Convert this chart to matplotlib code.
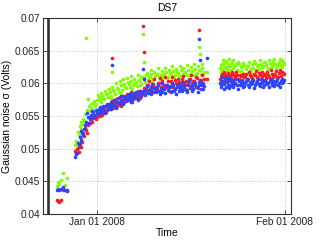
import datetime as dt
import matplotlib
matplotlib.use('Agg')
import matplotlib.pyplot as plt
import matplotlib.dates as mdates

plt.rcParams['font.family'] = ['Liberation Sans', 'DejaVu Sans']

# times are days relative to Jan 01 2008
t_early = [-6.6, -6.4, -6.2, -5.9, -5.6, -5.3, -5.0]
blue_early = [0.0437, 0.0438, 0.0437, 0.0439, 0.0442, 0.0436, 0.0435]
red_early = [0.0421, 0.0420, 0.0419, 0.0422, 0.0437, 0.0436, 0.0437]
green_early = [0.0443, 0.0449, 0.0446, 0.0452, 0.0462, 0.0444, 0.0455]

t_rise = [-3.6, -3.3, -3.0, -2.7, -2.4, -2.1, -1.8, -1.5, -1.2, -0.9, -0.6, -0.3,
          0.0, 0.3, 0.6, 0.9, 1.2, 1.5, 1.8, 2.1, 2.4, 2.7, 3.0, 3.3, 3.6, 3.9,
          4.2, 4.5, 4.8, 5.1, 5.4, 5.7, 6.0, 6.3, 6.6, 6.9, 7.2, 7.5]
blue_rise = [0.0487, 0.0494, 0.0506, 0.0512, 0.0524, 0.0530, 0.0541, 0.0549, 0.0545, 0.0552,
             0.0556, 0.0551, 0.0556, 0.0560, 0.0554, 0.0562, 0.0558, 0.0565, 0.0561, 0.0567,
             0.0560, 0.0569, 0.0565, 0.0571, 0.0568, 0.0575, 0.0570, 0.0577, 0.0573, 0.0579,
             0.0574, 0.0580, 0.0576, 0.0582, 0.0578, 0.0584, 0.0580, 0.0586]
red_rise = [0.0497, 0.0499, 0.0495, 0.0503, 0.0510, 0.0519, 0.0528, 0.0536, 0.0540, 0.0545,
            0.0547, 0.0550, 0.0548, 0.0553, 0.0557, 0.0552, 0.0561, 0.0556, 0.0564, 0.0560,
            0.0566, 0.0563, 0.0570, 0.0566, 0.0572, 0.0569, 0.0575, 0.0571, 0.0577, 0.0574,
            0.0579, 0.0576, 0.0581, 0.0578, 0.0584, 0.0580, 0.0586, 0.0583]
green_rise = [0.0506, 0.0510, 0.0521, 0.0530, 0.0537, 0.0542, 0.0669, 0.0576, 0.0558, 0.0563,
              0.0570, 0.0566, 0.0575, 0.0579, 0.0571, 0.0580, 0.0576, 0.0584, 0.0579, 0.0586,
              0.0581, 0.0590, 0.0584, 0.0593, 0.0587, 0.0597, 0.0590, 0.0599, 0.0593, 0.0602,
              0.0595, 0.0604, 0.0597, 0.0601, 0.0596, 0.0605, 0.0600, 0.0609]

t_rise2 = [-3.45, -3.15, -2.85, -2.55, -2.25, -1.95, -1.65, -1.35, -1.05, -0.75, -0.45, -0.15,
           0.15, 0.45, 0.75, 1.05, 1.35, 1.65, 1.95, 2.25, 2.55, 2.85, 3.15, 3.45, 3.75,
           4.05, 4.35, 4.65, 4.95, 5.25, 5.55, 5.85, 6.15, 6.45, 6.75, 7.05, 7.35]
blue_rise2 = [0.0492, 0.0509, 0.0518, 0.0527, 0.0521, 0.0536, 0.0555, 0.0540, 0.0550, 0.0558,
              0.0548, 0.0559, 0.0553, 0.0564, 0.0557, 0.0566, 0.0555, 0.0568, 0.0563, 0.0572,
              0.0566, 0.0574, 0.0562, 0.0578, 0.0571, 0.0580, 0.0568, 0.0581, 0.0575, 0.0584,
              0.0572, 0.0585, 0.0579, 0.0587, 0.0575, 0.0588, 0.0582]
red_rise2 = [0.0493, 0.0501, 0.0507, 0.0515, 0.0524, 0.0532, 0.0524, 0.0539, 0.0546, 0.0541,
             0.0552, 0.0546, 0.0556, 0.0550, 0.0561, 0.0555, 0.0565, 0.0559, 0.0569, 0.0563,
             0.0573, 0.0567, 0.0576, 0.0570, 0.0579, 0.0565, 0.0580, 0.0574, 0.0583, 0.0577,
             0.0586, 0.0571, 0.0585, 0.0581, 0.0589, 0.0577, 0.0588]
green_rise2 = [0.0511, 0.0526, 0.0534, 0.0541, 0.0545, 0.0553, 0.0559, 0.0565, 0.0569, 0.0561,
               0.0573, 0.0568, 0.0582, 0.0574, 0.0585, 0.0578, 0.0589, 0.0583, 0.0592, 0.0577,
               0.0595, 0.0588, 0.0600, 0.0591, 0.0603, 0.0585, 0.0606, 0.0594, 0.0608, 0.0599,
               0.0611, 0.0592, 0.0607, 0.0602, 0.0612, 0.0598, 0.0610]

t_mid = [7.8, 8.1, 8.4, 8.7, 9.0, 9.3, 9.6, 9.9, 10.2, 10.5, 10.8, 11.1, 11.4, 11.7,
         12.0, 12.3, 12.6, 12.9, 13.2, 13.5, 13.8, 14.1, 14.4, 14.7, 15.0, 15.3, 15.6,
         15.9, 16.2, 16.5, 16.8, 17.1, 17.4, 17.7]
blue_mid = [0.0588, 0.0592, 0.0585, 0.0590, 0.0594, 0.0587, 0.0591, 0.0595, 0.0589, 0.0593,
            0.0586, 0.0592, 0.0596, 0.0590, 0.0594, 0.0588, 0.0597, 0.0591, 0.0595, 0.0589,
            0.0598, 0.0592, 0.0596, 0.0590, 0.0599, 0.0593, 0.0597, 0.0591, 0.0600, 0.0594,
            0.0598, 0.0592, 0.0601, 0.0596]
red_mid = [0.0593, 0.0589, 0.0597, 0.0592, 0.0590, 0.0599, 0.0594, 0.0591, 0.0600, 0.0595,
           0.0603, 0.0593, 0.0598, 0.0604, 0.0596, 0.0601, 0.0594, 0.0605, 0.0599, 0.0602,
           0.0596, 0.0606, 0.0600, 0.0603, 0.0597, 0.0607, 0.0601, 0.0604, 0.0598, 0.0608,
           0.0602, 0.0605, 0.0599, 0.0607]
green_mid = [0.0608, 0.0612, 0.0605, 0.0610, 0.0614, 0.0607, 0.0611, 0.0615, 0.0609, 0.0613,
             0.0606, 0.0614, 0.0618, 0.0610, 0.0616, 0.0609, 0.0619, 0.0612, 0.0617, 0.0611,
             0.0620, 0.0613, 0.0618, 0.0612, 0.0621, 0.0615, 0.0619, 0.0613, 0.0622, 0.0616,
             0.0620, 0.0614, 0.0623, 0.0617]

t_mid2 = [7.95, 8.25, 8.55, 8.85, 9.15, 9.45, 9.75, 10.05, 10.35, 10.65, 10.95, 11.25,
          11.55, 11.85, 12.15, 12.45, 12.75, 13.05, 13.35, 13.65, 13.95, 14.25, 14.55,
          14.85, 15.15, 15.45, 15.75, 16.05, 16.35, 16.65, 16.95, 17.25, 17.55]
blue_mid2 = [0.0582, 0.0596, 0.0590, 0.0584, 0.0599, 0.0593, 0.0586, 0.0597, 0.0583, 0.0600,
             0.0591, 0.0585, 0.0598, 0.0594, 0.0587, 0.0601, 0.0589, 0.0584, 0.0599, 0.0595,
             0.0588, 0.0602, 0.0591, 0.0586, 0.0603, 0.0596, 0.0589, 0.0600, 0.0594, 0.0587,
             0.0604, 0.0598, 0.0592]
red_mid2 = [0.0586, 0.0598, 0.0603, 0.0588, 0.0595, 0.0606, 0.0590, 0.0600, 0.0608, 0.0592,
            0.0597, 0.0609, 0.0595, 0.0588, 0.0604, 0.0610, 0.0593, 0.0600, 0.0607, 0.0591,
            0.0602, 0.0611, 0.0597, 0.0590, 0.0606, 0.0612, 0.0595, 0.0603, 0.0609, 0.0593,
            0.0605, 0.0613, 0.0600]
green_mid2 = [0.0602, 0.0616, 0.0610, 0.0621, 0.0604, 0.0618, 0.0612, 0.0623, 0.0606, 0.0619,
              0.0613, 0.0624, 0.0608, 0.0621, 0.0615, 0.0626, 0.0610, 0.0622, 0.0616, 0.0627,
              0.0611, 0.0624, 0.0617, 0.0628, 0.0613, 0.0625, 0.0619, 0.0629, 0.0614, 0.0626,
              0.0620, 0.0630, 0.0615]

t_late = [20.3, 20.5, 20.7, 20.9, 21.1, 21.3, 21.5, 21.7, 21.9, 22.1, 22.3, 22.5, 22.8,
          23.1, 23.4, 23.7, 24.0, 24.3, 24.6, 24.9, 25.2, 25.5, 25.8, 26.1, 26.4, 26.7,
          27.0, 27.3, 27.6, 27.9, 28.2, 28.5, 28.8, 29.1, 29.4, 29.7, 30.0, 30.3, 30.6, 30.9]
blue_late = [0.0601, 0.0597, 0.0604, 0.0599, 0.0606, 0.0595, 0.0602, 0.0608, 0.0598, 0.0603,
             0.0596, 0.0605, 0.0600, 0.0597, 0.0603, 0.0599, 0.0601, 0.0596, 0.0604, 0.0598,
             0.0602, 0.0600, 0.0605, 0.0597, 0.0603, 0.0599, 0.0601, 0.0606, 0.0598, 0.0602,
             0.0600, 0.0604, 0.0597, 0.0603, 0.0599, 0.0606, 0.0601, 0.0604, 0.0600, 0.0605]
red_late = [0.0607, 0.0611, 0.0604, 0.0609, 0.0613, 0.0606, 0.0610, 0.0603, 0.0612, 0.0608,
            0.0615, 0.0605, 0.0610, 0.0613, 0.0607, 0.0611, 0.0604, 0.0609, 0.0614, 0.0606,
            0.0612, 0.0608, 0.0605, 0.0613, 0.0609, 0.0616, 0.0607, 0.0611, 0.0614, 0.0608,
            0.0612, 0.0606, 0.0615, 0.0610, 0.0613, 0.0608, 0.0616, 0.0611, 0.0618, 0.0614]
green_late = [0.0623, 0.0628, 0.0620, 0.0631, 0.0625, 0.0634, 0.0622, 0.0629, 0.0626, 0.0619,
              0.0632, 0.0624, 0.0627, 0.0621, 0.0630, 0.0625, 0.0618, 0.0628, 0.0622, 0.0626,
              0.0620, 0.0629, 0.0624, 0.0631, 0.0627, 0.0622, 0.0630, 0.0625, 0.0633, 0.0628,
              0.0623, 0.0631, 0.0626, 0.0634, 0.0629, 0.0625, 0.0632, 0.0628, 0.0635, 0.0630]

t_late2 = [20.4, 20.6, 20.8, 21.0, 21.2, 21.4, 21.6, 21.8, 22.0, 22.2, 22.4, 22.65, 22.95,
           23.25, 23.55, 23.85, 24.15, 24.45, 24.75, 25.05, 25.35, 25.65, 25.95, 26.25,
           26.55, 26.85, 27.15, 27.45, 27.75, 28.05, 28.35, 28.65, 28.95, 29.25, 29.55,
           29.85, 30.15, 30.45, 30.75]
blue_late2 = [0.0594, 0.0609, 0.0600, 0.0592, 0.0605, 0.0610, 0.0597, 0.0593, 0.0607, 0.0601,
              0.0594, 0.0599, 0.0607, 0.0592, 0.0598, 0.0605, 0.0594, 0.0601, 0.0607, 0.0595,
              0.0599, 0.0604, 0.0593, 0.0600, 0.0606, 0.0596, 0.0602, 0.0594, 0.0605, 0.0599,
              0.0595, 0.0606, 0.0601, 0.0596, 0.0603, 0.0598, 0.0595, 0.0607, 0.0602]
red_late2 = [0.0602, 0.0614, 0.0609, 0.0617, 0.0603, 0.0611, 0.0616, 0.0605, 0.0610, 0.0618,
             0.0604, 0.0612, 0.0617, 0.0606, 0.0613, 0.0602, 0.0615, 0.0610, 0.0605, 0.0617,
             0.0611, 0.0603, 0.0615, 0.0619, 0.0606, 0.0612, 0.0618, 0.0604, 0.0613, 0.0617,
             0.0609, 0.0620, 0.0605, 0.0615, 0.0619, 0.0610, 0.0621, 0.0607, 0.0616]
green_late2 = [0.0617, 0.0630, 0.0636, 0.0624, 0.0633, 0.0618, 0.0627, 0.0638, 0.0621, 0.0630,
               0.0635, 0.0616, 0.0629, 0.0633, 0.0619, 0.0627, 0.0631, 0.0615, 0.0626, 0.0632,
               0.0618, 0.0624, 0.0634, 0.0620, 0.0628, 0.0635, 0.0617, 0.0626, 0.0632, 0.0621,
               0.0636, 0.0624, 0.0630, 0.0637, 0.0622, 0.0629, 0.0638, 0.0625, 0.0633]

# isolated spikes
t_spike = [2.5, 7.6, 7.7, 16.8, 17.0, 18.1]
blue_spike = [0.0628, 0.0622, 0.0606, 0.0668, 0.0635, 0.0639]
red_spike = [0.0639, 0.0688, 0.0648, 0.0681, 0.0604, 0.0606]
green_spike = [0.0617, 0.0676, 0.0632, 0.0656, 0.0645, 0.0618]

t_marker = -8.0
xlim_days = (-8.9, 32.0)

t0 = dt.datetime(2008, 1, 1)


def to_dates(days):
    return [mdates.date2num(t0 + dt.timedelta(days=d)) for d in days]


t_all = t_early + t_rise + t_rise2 + t_mid + t_mid2 + t_late + t_late2 + t_spike
series = [
    (green_early + green_rise + green_rise2 + green_mid + green_mid2 + green_late
     + green_late2 + green_spike, '#7fff00'),
    (red_early + red_rise + red_rise2 + red_mid + red_mid2 + red_late + red_late2
     + red_spike, '#ff1a1a'),
    (blue_early + blue_rise + blue_rise2 + blue_mid + blue_mid2 + blue_late + blue_late2
     + blue_spike, '#2a45ff'),
]

fig = plt.figure(figsize=(3.22, 2.42), dpi=100)
ax = fig.add_axes([0.1335, 0.1157, 0.770, 0.8099])

for vals, col in series:
    ax.plot(to_dates(t_all), vals, linestyle='none', marker='o', markersize=2.6,
            markeredgewidth=0, color=col)

ax.axvline(to_dates([t_marker])[0], color='#333333', linewidth=1.9)

ax.set_xlim(to_dates(list(xlim_days)))
ax.set_ylim(0.04, 0.07)
ax.set_yticks([0.04, 0.045, 0.05, 0.055, 0.06, 0.065, 0.07])
ax.set_yticklabels(['0.04', '0.045', '0.05', '0.055', '0.06', '0.065', '0.07'])
ax.set_xticks(to_dates([0, 31]))
ax.set_xticklabels(['Jan 01 2008', 'Feb 01 2008'])

ax.grid(True, linestyle=':', color='#bbbbbb', linewidth=0.6)
ax.tick_params(direction='in', top=True, right=True, labelsize=7.3, length=3,
               width=0.6, colors='#333333', labelcolor='#222222', pad=2)
for s in ax.spines.values():
    s.set_color('#333333')
    s.set_linewidth(0.8)

ax.set_title('DS7', fontsize=7.5, pad=5)
ax.set_xlabel('Time', fontsize=7.5, labelpad=1)
ax.set_ylabel('Gaussian noise σ (Volts)', fontsize=7.5, labelpad=2)

fig.savefig('out.png', dpi=100)
